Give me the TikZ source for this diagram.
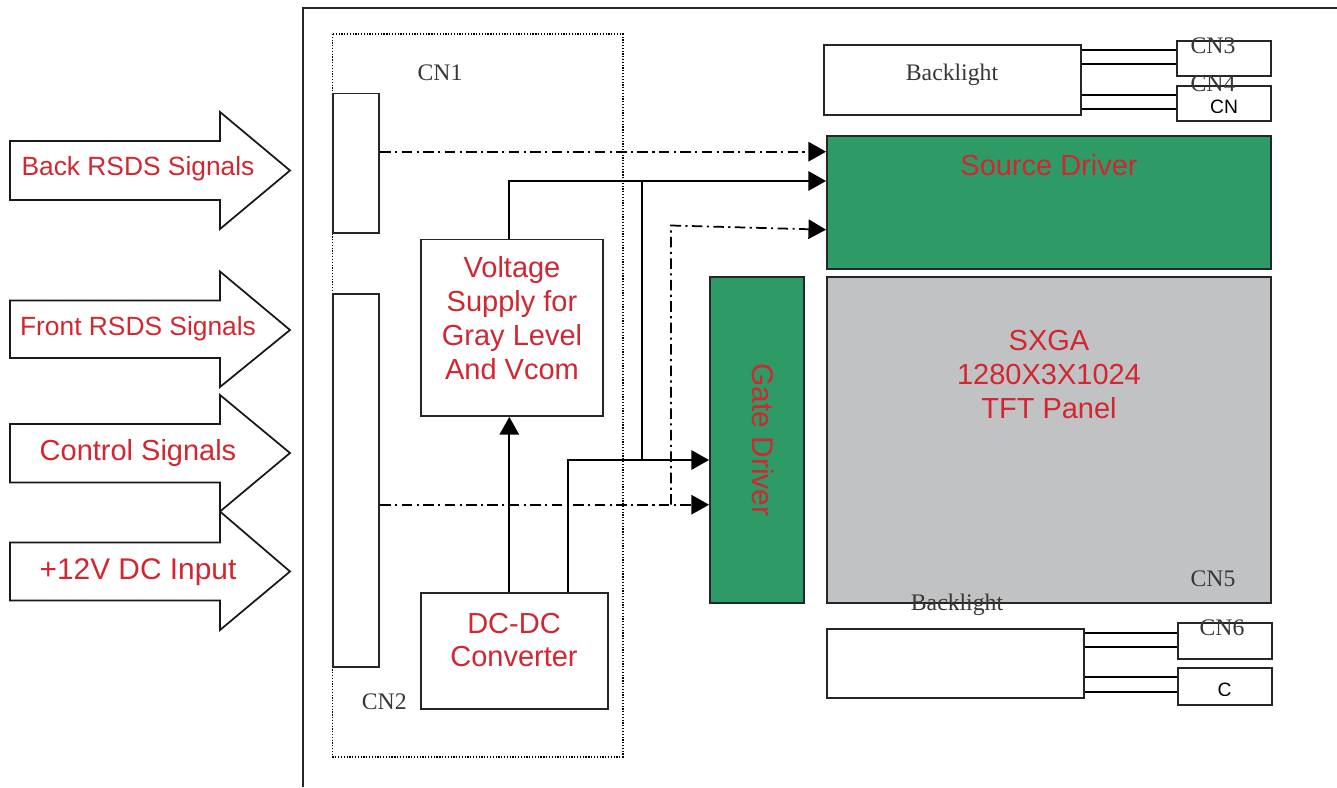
\documentclass[tikz,border=0pt]{standalone}
\usepackage{fontspec}
\setmainfont{Liberation Serif}
\setsansfont{Liberation Sans}
\usetikzlibrary{arrows.meta,fit,calc}
\definecolor{txtred}{RGB}{210,38,48}
\definecolor{drvgreen}{RGB}{46,154,102}
\definecolor{panelgray}{RGB}{193,194,196}
\definecolor{lblgray}{RGB}{55,55,55}
\begin{document}
\begin{tikzpicture}[x=0.02cm,y=-0.02cm,
  box/.style={draw=black!85, line width=1.1pt, inner sep=0pt},
  redtxt/.style={text=txtred, font=\sffamily\fontsize{16.5}{19.3}\selectfont, align=center, inner sep=0pt},
  lbl/.style={text=lblgray, font=\rmfamily\fontsize{13.5}{16}\selectfont, inner sep=0pt},
  ddline/.style={line width=1pt, dash pattern=on 6pt off 2.5pt on 1.2pt off 2.5pt},
  solidline/.style={line width=1pt},
  arr/.style={-{Triangle[length=10pt,width=11pt]}},
  blockarrow/.style={draw=black!90, line width=1pt, fill=white, line join=miter},
  smallsans/.style={text=black, font=\sffamily\fontsize{11}{13}\selectfont, inner sep=0pt}]
\useasboundingbox (0,0) rectangle (1337,787);
\fill[white] (0,0) rectangle (1337,787);

% outer frame
\draw[line width=1.2pt, black!85] (303,787) -- (303,8) -- (1337,8);

% dotted box
\draw[line width=0.9pt, dash pattern=on 0.7pt off 0.9pt] (332.7,34) rectangle (622.7,756.7);

% block arrows
\draw[blockarrow] (10,141) -- (220,141) -- (220,112) -- (290,170.5) -- (220,229) -- (220,200) -- (10,200) -- cycle;
\node[redtxt, font=\sffamily\fontsize{15}{18}\selectfont] (tback) at (138,169) {Back RSDS Signals};
\draw[blockarrow] (10,300.5) -- (220,300.5) -- (220,271.5) -- (290,330) -- (220,387) -- (220,358) -- (10,358) -- cycle;
\node[redtxt, font=\sffamily\fontsize{15}{18}\selectfont] (tfront) at (138,329) {Front RSDS Signals};
\draw[blockarrow] (10,424) -- (220,424) -- (220,395) -- (290,453) -- (220,511.5) -- (220,482.5) -- (10,482.5) -- cycle;
\node[redtxt] (tctrl) at (138,453) {Control Signals};
\draw[blockarrow] (10,542.5) -- (220,542.5) -- (220,511.5) -- (290,571.5) -- (220,630) -- (220,600.5) -- (10,600.5) -- cycle;
\node[redtxt, font=\sffamily\fontsize{17}{20}\selectfont] (tdc) at (138,572) {+12V DC Input};

% connectors CN1, CN2
\node[box, fit={(332.7,93.5) (379.3,233)}] (cn1) {};
\node[box, fit={(332.7,294) (379.3,667.3)}] (cn2) {};
\node[lbl] (cn1l) at (440,72.5) {CN1};
\node[lbl] (cn2l) at (384.3,701.5) {CN2};

% voltage supply
\node[box, fit={(421,239.5) (602.7,416)}] (volt) {};
\node[redtxt] (voltt) at (512,318) {Voltage\\Supply for\\Gray Level\\And Vcom};

% DC-DC
\node[box, fit={(421,593) (608.3,709.3)}] (dcdc) {};
\node[redtxt] (dcdct) at (514,640) {DC-DC\\[0pt]Converter};

% gate driver
\node[box, fill=drvgreen, fit={(710,276.7) (804,603)}] (gate) {};
\node[redtxt, rotate=-90, font=\sffamily\fontsize{17}{20}\selectfont] (gatet) at (763,440) {Gate Driver};

% source driver
\node[box, fill=drvgreen, fit={(827,136) (1271,269)}] (src) {};
\node[redtxt] (srct) at (1049,165) {Source Driver};

% TFT panel
\node[box, fill=panelgray, fit={(827,277) (1271,603)}] (tft) {};
\node[redtxt] (tftt) at (1049,374.5) {SXGA\\1280X3X1024\\TFT Panel};
\node[lbl] (cn5l) at (1213,579) {CN5};

% top backlight and CN3/CN4
\node[box, fit={(824,45) (1081,115)}] (bl1) {};
\node[lbl] (bl1t) at (952,75) {Backlight};
\node[box, fit={(1177,41) (1271,76)}] (cn3) {};
\node[box, fit={(1177,86) (1271,121)}] (cn4) {};
\coordinate (h50) at (0,50);
\coordinate (h64) at (0,64);
\coordinate (h95) at (0,95);
\coordinate (h109) at (0,109);
\draw[solidline] (bl1.east |- h50) -- (cn3.west |- h50);
\draw[solidline] (bl1.east |- h64) -- (cn3.west |- h64);
\draw[solidline] (bl1.east |- h95) -- (cn4.west |- h95);
\draw[solidline] (bl1.east |- h109) -- (cn4.west |- h109);
\node[lbl] (cn3l) at (1213,46) {CN3};
\node[lbl] (cn4l) at (1213,84) {CN4};
\begin{scope}
\clip (1177,86) rectangle (1271,113);
\node[smallsans] (cn4s) at (1224,107) {CN};
\end{scope}

% bottom backlight and CN6
\node[lbl] (bl2t) at (957,605) {Backlight};
\node[box, fit={(826.7,629) (1084,698.3)}] (bl2) {};
\node[box, fit={(1178.3,623.3) (1272,659.3)}] (cn6) {};
\node[box, fit={(1178.3,668.3) (1272,705)}] (cn7) {};
\coordinate (h633) at (0,632.7);
\coordinate (h647) at (0,647.3);
\coordinate (h677) at (0,677.3);
\coordinate (h692) at (0,691.7);
\draw[solidline] (bl2.east |- h633) -- (cn6.west |- h633);
\draw[solidline] (bl2.east |- h647) -- (cn6.west |- h647);
\draw[solidline] (bl2.east |- h677) -- (cn7.west |- h677);
\draw[solidline] (bl2.east |- h692) -- (cn7.west |- h692);
\node[lbl] (cn6l) at (1222,628) {CN6};
\begin{scope}
\clip (1178.3,668.3) rectangle (1272,695.5);
\node[smallsans] (cn7s) at (1224.5,690) {C};
\end{scope}

% signal connectors
\coordinate (y152) at (0,151.7);
\coordinate (y181) at (0,181);
\coordinate (y460) at (0,460);
\coordinate (y505) at (0,504.7);
\coordinate (y230) at (0,229.7);
\coordinate (xv) at (509.3,0);
\coordinate (xd) at (568.3,0);
\coordinate (j1) at (641.7,181);
\coordinate (j2) at (641.7,460);
\coordinate (k1) at (671,504.7);
\coordinate (k2) at (671,225.5);

\draw[ddline, arr] (cn1.east |- y152) -- (src.west |- y152);
\draw[solidline, arr] (volt.north -| xv) |- (src.west |- y181);
\draw[solidline] (j1) -- (j2);
\draw[solidline, arr] (dcdc.north -| xd) |- (gate.west |- y460);
\draw[solidline, arr] (dcdc.north -| xv) -- (volt.south -| xv);
\draw[ddline, arr] (cn2.east |- y505) -- (gate.west |- y505);
\draw[ddline, arr] (k1) -- (k2) -- (src.west |- y230);
\end{tikzpicture}
\end{document}
